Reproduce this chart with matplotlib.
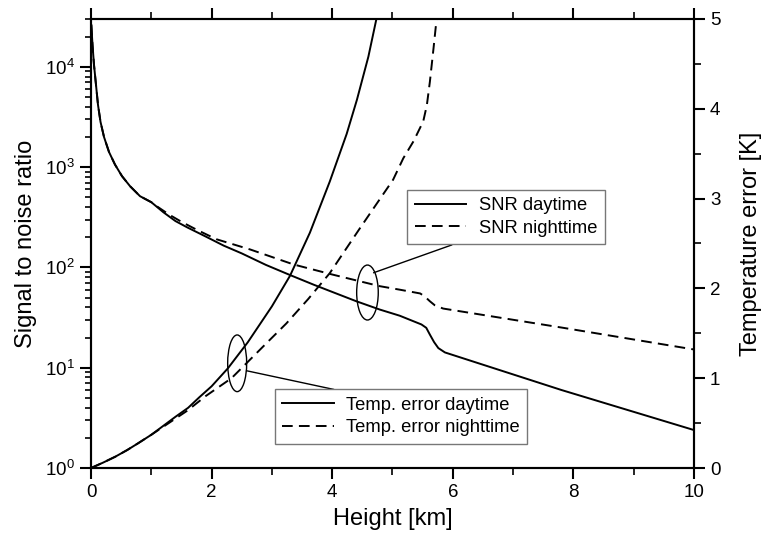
import numpy as np
import matplotlib
matplotlib.use("Agg")
import matplotlib.pyplot as plt
from matplotlib.patches import Ellipse
from matplotlib.ticker import LogLocator, MultipleLocator, LogFormatterMathtext, NullFormatter

plt.rcParams['font.family'] = ['Liberation Sans', 'DejaVu Sans']
plt.rcParams['mathtext.default'] = 'regular'

# ---- data ----
snr_day_x = [0.005, 0.025, 0.05, 0.083, 0.116, 0.158, 0.216, 0.299, 0.398, 0.514, 0.647, 0.813,
             1.0, 1.2, 1.4, 1.6, 1.89, 2.2, 2.5, 2.9, 3.3, 3.7, 4.0, 4.4, 4.79, 5.12, 5.48,
             5.56, 5.62, 5.69, 5.76, 5.87, 7.8, 9.99]
snr_day_y = [26100, 16500, 10400, 6590, 4170, 2820, 1995, 1413, 1060, 813, 646, 513,
             447, 355, 290, 250, 205, 165, 138, 106, 84, 67, 57, 46, 38, 33, 27,
             25, 21.4, 18, 15.7, 14.2, 6.0, 2.4]

snr_night_x = [0.005, 0.025, 0.05, 0.083, 0.116, 0.158, 0.216, 0.299, 0.398, 0.514, 0.647,
               0.813, 1.0, 1.11, 1.3, 1.5, 1.75, 2.08, 2.64, 3.36, 4.0, 4.79, 5.12, 5.46,
               5.54, 5.62, 5.7, 5.84, 7.83, 10.0]
snr_night_y = [26100, 16500, 10400, 6590, 4170, 2820, 1995, 1413, 1060, 813, 646,
               513, 447, 400, 335, 285, 238, 191, 151, 107, 85, 65, 60, 55,
               51, 46, 42, 38.9, 25, 15.2]

temp_day_x = [0, 0.2, 0.4, 0.6, 0.78, 1.0, 1.2, 1.4, 1.61, 1.8, 2.0, 2.27, 2.6, 3.0, 3.3,
              3.63, 3.96, 4.24, 4.41, 4.6, 4.73]
temp_day_y = [0, 0.06, 0.125, 0.2, 0.275, 0.37, 0.47, 0.57, 0.67, 0.79, 0.91, 1.11, 1.40,
              1.80, 2.14, 2.62, 3.19, 3.72, 4.10, 4.58, 4.99]

temp_night_x = [0, 0.2, 0.4, 0.6, 0.78, 1.0, 1.2, 1.4, 1.6, 1.9, 2.33, 2.94, 3.24, 3.6,
                3.96, 4.46, 5.01, 5.18, 5.35, 5.51, 5.57, 5.62, 5.68, 5.73]
temp_night_y = [0, 0.06, 0.125, 0.2, 0.275, 0.37, 0.46, 0.55, 0.64, 0.8, 1.0, 1.41, 1.61,
                1.88, 2.17, 2.67, 3.21, 3.45, 3.64, 3.86, 4.04, 4.30, 4.67, 4.99]

x_ticks = [0, 2, 4, 6, 8, 10]
t_ticks = [0, 1, 2, 3, 4, 5]

# ---- figure ----
fig = plt.figure(figsize=(7.68, 5.38), dpi=100)
ax = fig.add_axes([0.1185, 0.1301, 0.7851, 0.8346])
ax2 = ax.twinx()

lw = 1.4
dash = (0, (5.5, 3.2))

l1, = ax.plot(snr_day_x, snr_day_y, color='black', lw=lw, label='SNR daytime')
l2, = ax.plot(snr_night_x, snr_night_y, color='black', lw=lw, ls=dash, label='SNR nighttime')
l3, = ax2.plot(temp_day_x, temp_day_y, color='black', lw=lw, label='Temp. error daytime')
l4, = ax2.plot(temp_night_x, temp_night_y, color='black', lw=lw, ls=dash, label='Temp. error nighttime')

ax.set_yscale('log')
ax.set_xlim(0, 10)
ax.set_ylim(1, 3e4)
ax2.set_ylim(0, 5)

ax.set_xticks(x_ticks)
ax.xaxis.set_minor_locator(MultipleLocator(1))
ax.yaxis.set_major_locator(LogLocator(base=10, numticks=10))
ax.yaxis.set_major_formatter(LogFormatterMathtext())
ax.yaxis.set_minor_locator(LogLocator(base=10, subs=np.arange(2, 10), numticks=20))
ax.yaxis.set_minor_formatter(NullFormatter())
ax2.set_yticks(t_ticks)
ax2.yaxis.set_minor_locator(MultipleLocator(0.5))

for a in (ax, ax2):
    for s in a.spines.values():
        s.set_linewidth(1.5)

ax.tick_params(axis='both', which='major', direction='out', length=8, width=1.5,
               labelsize=13.5, top=True, labeltop=False)
ax.tick_params(axis='both', which='minor', direction='out', length=5, width=1.2, top=True)
ax.tick_params(axis='y', which='minor', length=4.5)
ax2.tick_params(axis='y', which='major', direction='out', length=8, width=1.5, labelsize=13.5)
ax2.tick_params(axis='y', which='minor', direction='out', length=5, width=1.2)

ax.set_xlabel('Height [km]', fontsize=17, labelpad=5)
ax.set_ylabel('Signal to noise ratio', fontsize=17, labelpad=6)
ax2.set_ylabel('Temperature error [K]', fontsize=17, labelpad=14)

# annotation ellipses and leader lines (in the temperature axis coordinates)
ax2.add_patch(Ellipse((4.585, 1.954), 0.358, 0.612, fill=False, ec='black', lw=1.0))
ax2.add_patch(Ellipse((2.424, 1.166), 0.315, 0.631, fill=False, ec='black', lw=1.0))
ax2.plot([4.69, 5.98], [2.175, 2.483], color='black', lw=1.0)
ax2.plot([2.58, 4.02], [1.083, 0.876], color='black', lw=1.0)

leg_kw = dict(fontsize=13.2, frameon=True, fancybox=False, framealpha=1, edgecolor='#777777',
              handlelength=2.8, handletextpad=0.7, borderpad=0.4, labelspacing=0.3,
              borderaxespad=0, loc='upper left')
leg1 = ax2.legend([l1, l2], ['SNR daytime', 'SNR nighttime'],
                  bbox_to_anchor=(0.5245, 0.619), bbox_transform=ax.transAxes, **leg_kw)
leg1.get_frame().set_linewidth(1.0)
ax2.add_artist(leg1)
leg2 = ax2.legend([l3, l4], ['Temp. error daytime', 'Temp. error nighttime'],
                  bbox_to_anchor=(0.305, 0.175), bbox_transform=ax.transAxes, **leg_kw)
leg2.get_frame().set_linewidth(1.0)

fig.savefig('out.png', dpi=100)
